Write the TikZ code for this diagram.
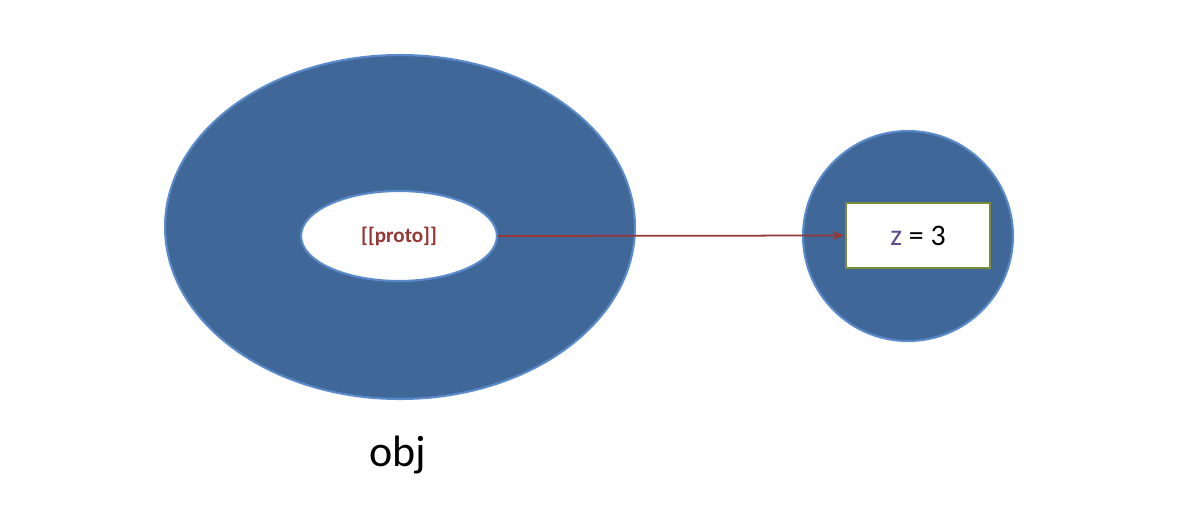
\documentclass[tikz,border=0pt]{standalone}
\usepackage{fontspec}
\setmainfont{Carlito}
\usetikzlibrary{shapes.geometric,arrows.meta}
\definecolor{blobfill}{HTML}{3F6899}
\definecolor{blobline}{HTML}{5B8ACB}
\definecolor{protored}{HTML}{953735}
\definecolor{boxline}{HTML}{7A8B3A}
\definecolor{zpurple}{HTML}{5F4B8B}
\begin{document}
\begin{tikzpicture}[x=0.02cm,y=-0.02cm,
  blob/.style={draw=blobline,line width=1.2pt,fill=blobfill,inner sep=0pt}]
\useasboundingbox (0,0) rectangle (1184,525);
\node[blob,ellipse,minimum width=470\pgflinewidth*0+9.4cm,minimum height=6.88cm] (obj) at (400,227) {};
\node[draw=blobline,line width=1.2pt,fill=white,ellipse,minimum width=3.92cm,minimum height=1.8cm,inner sep=0pt] (proto) at (399,236) {\fontsize{12}{14}\selectfont\bfseries\color{protored}[[proto]]};
\node[blob,circle,minimum size=4.2cm] (target) at (908,236) {};
\node[draw=boxline,line width=1.5pt,fill=white,minimum width=2.88cm,minimum height=1.3cm,inner sep=0pt] (zbox) at (918,235.5) {\fontsize{17}{20}\selectfont{\color{zpurple}z} = 3};
\node (label) at (398,455) {\fontsize{25}{30}\selectfont obj};
\draw[protored,line width=1pt,-{Stealth[length=7pt,width=5pt]}] (proto.east) -- (zbox.west);
\end{tikzpicture}
\end{document}
